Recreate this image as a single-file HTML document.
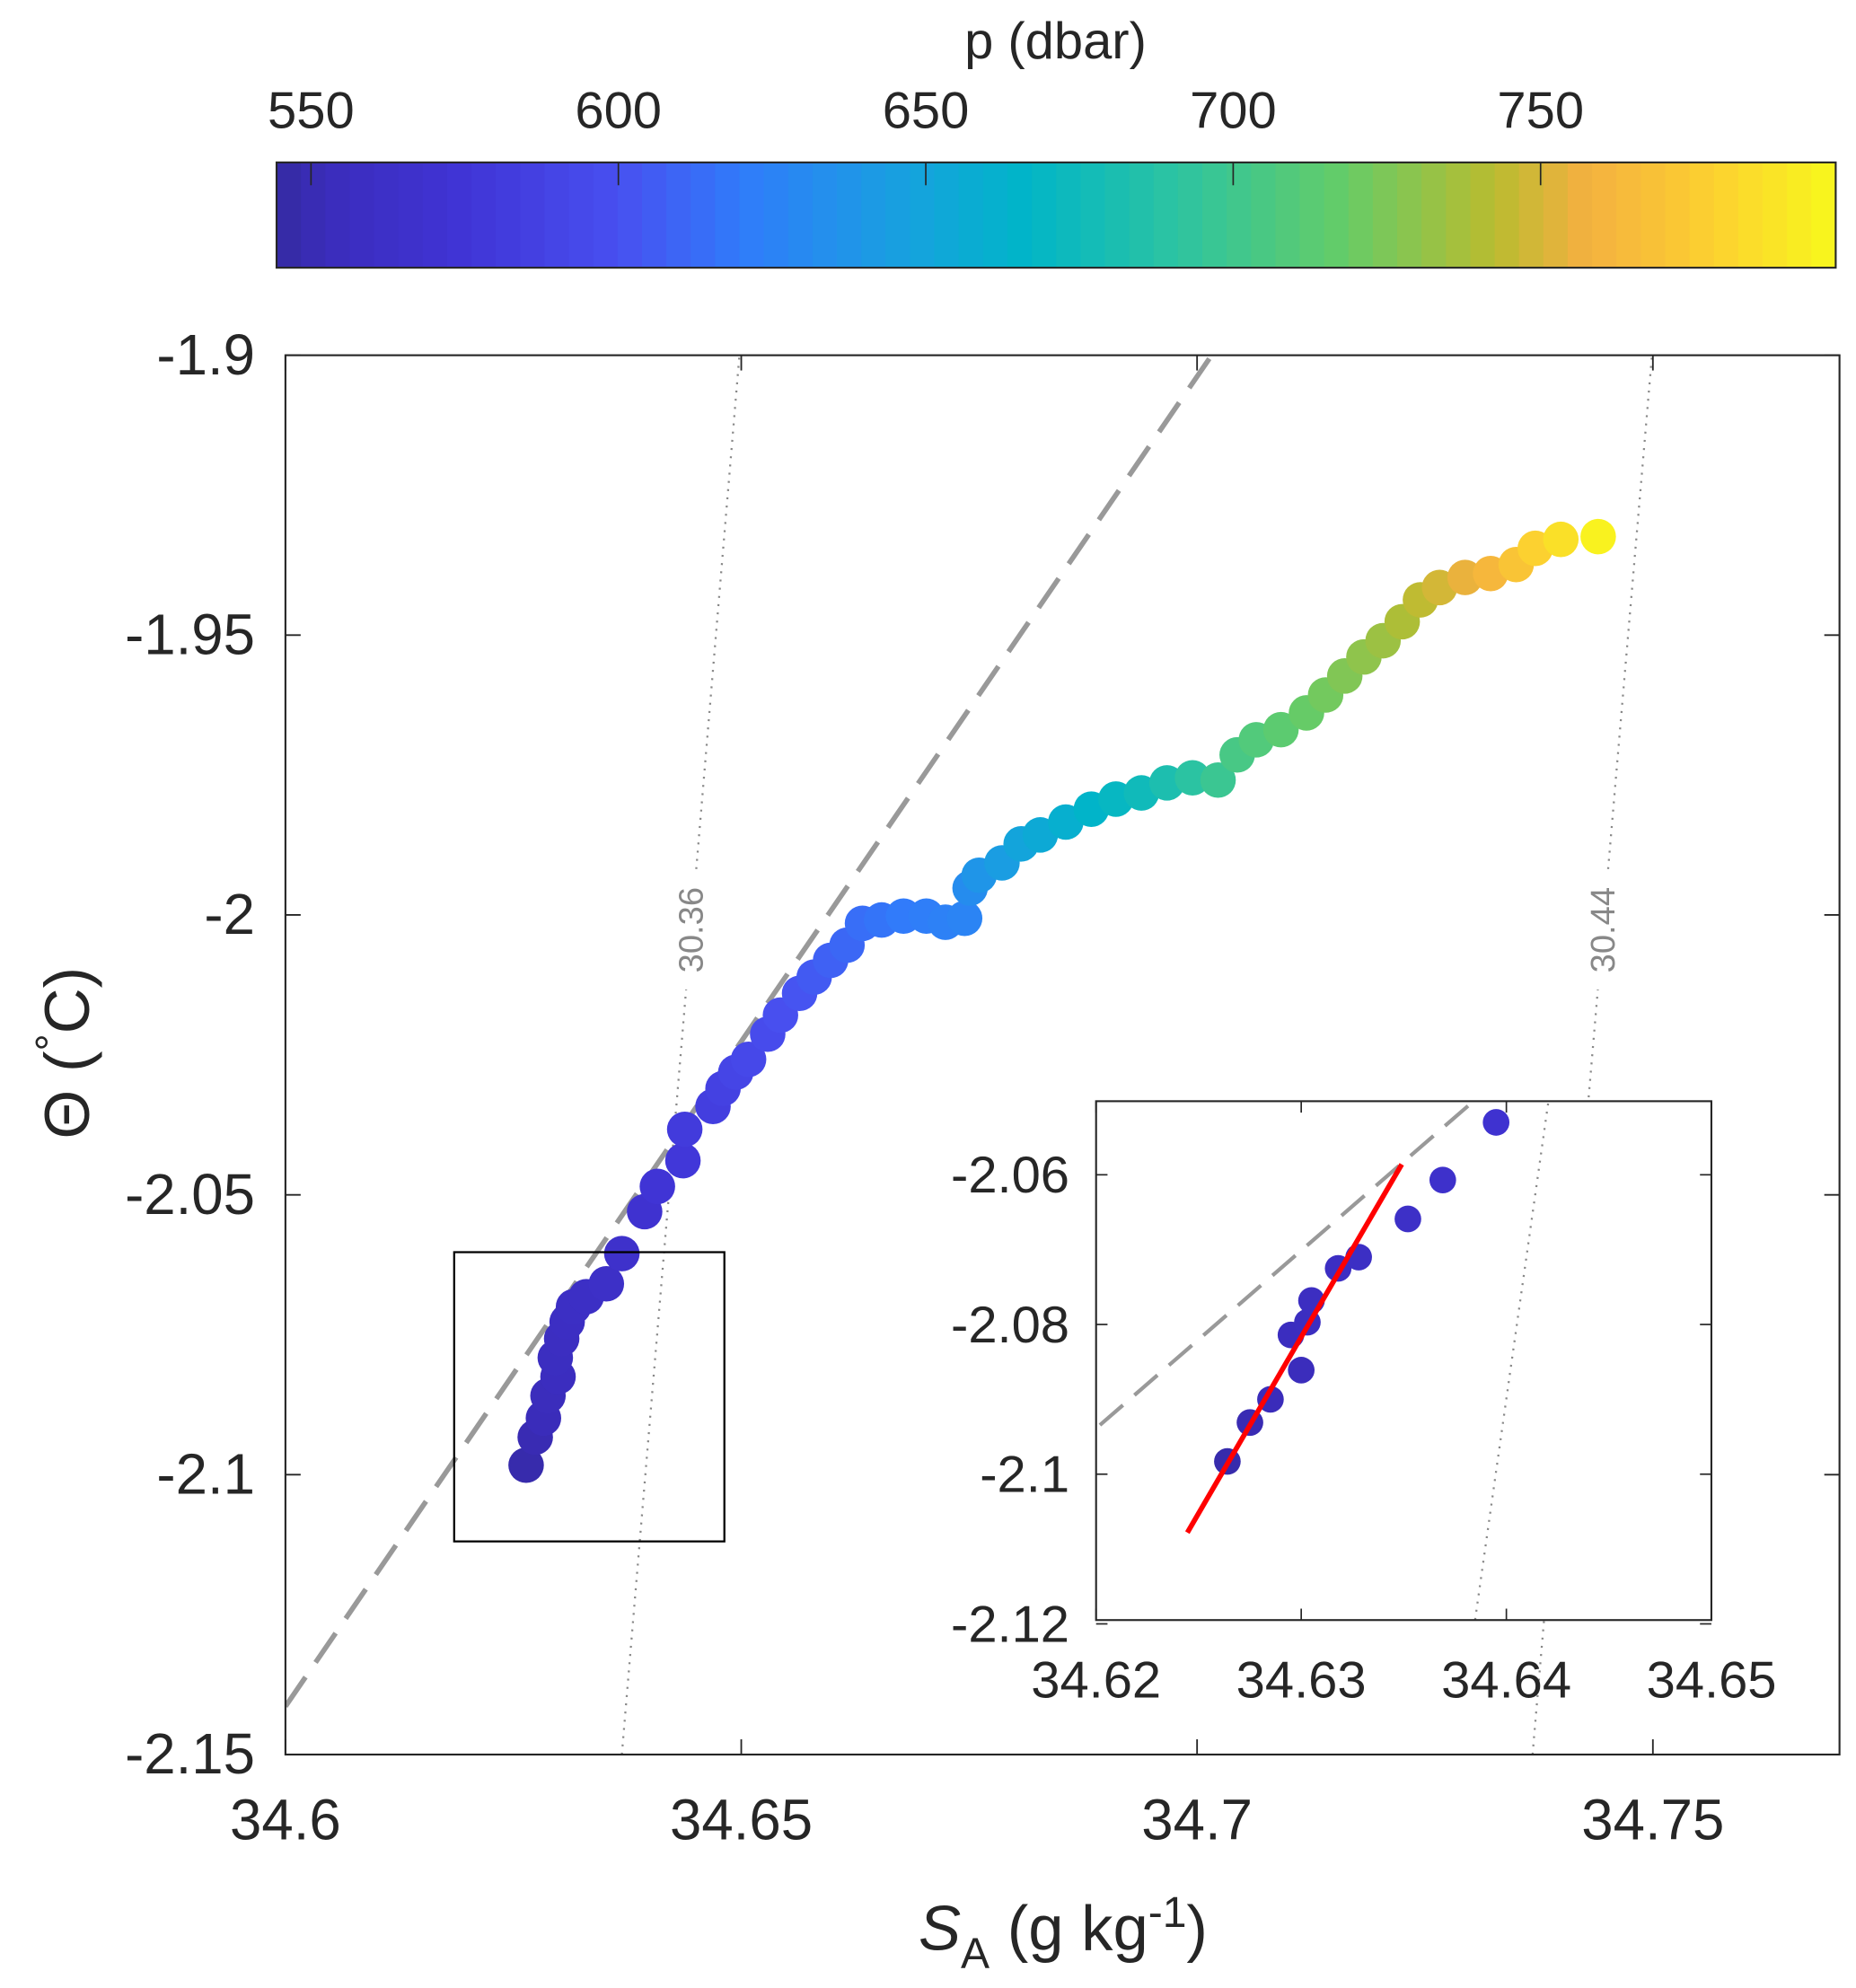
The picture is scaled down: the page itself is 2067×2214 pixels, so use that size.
<!DOCTYPE html>
<html><head><meta charset="utf-8"><style>
html,body{margin:0;padding:0;background:#fff;}
svg{display:block;font-family:"Liberation Sans",sans-serif;}
</style></head><body>
<svg id="chart" width="2067" height="2214" viewBox="0 0 1463 1567" xmlns="http://www.w3.org/2000/svg">
<g id="cbar"></g>
<g id="main"></g>
<g id="inset"></g>
</svg>
<script>
// ---- data ----
const mainSal = [34.6264,34.6274,34.6283,34.6288,34.6299,34.6296,34.6303,34.6309,34.6316,34.6330,34.6352,34.6369,34.6394,34.6408,34.6436,34.6438,34.6469,34.6480,34.6494,34.6508,34.6529,34.6543,34.6564,34.6580,34.6598,34.6616,34.6633,34.6654,34.6678,34.6703,34.6724,34.6745,34.6751,34.6761,34.6786,34.6807,34.6828,34.6856,34.6884,34.6911,34.6939,34.6967,34.6995,34.7023,34.7044,34.7065,34.7092,34.7120,34.7141,34.7162,34.7183,34.7204,34.7225,34.7245,34.7266,34.7294,34.7322,34.7350,34.7371,34.7399,34.7440];
const mainTheta = [-2.0983,-2.0933,-2.0899,-2.0859,-2.0825,-2.0791,-2.0757,-2.0727,-2.0700,-2.0682,-2.0659,-2.0605,-2.0530,-2.0485,-2.0439,-2.0383,-2.0342,-2.0310,-2.0281,-2.0258,-2.0213,-2.0179,-2.0140,-2.0111,-2.0081,-2.0054,-2.0015,-2.0009,-2.0002,-2.0002,-2.0013,-2.0006,-1.9952,-1.9929,-1.9907,-1.9873,-1.9857,-1.9834,-1.9811,-1.9793,-1.9782,-1.9764,-1.9755,-1.9759,-1.9714,-1.9687,-1.9669,-1.9639,-1.9607,-1.9573,-1.9539,-1.9510,-1.9476,-1.9437,-1.9415,-1.9397,-1.9390,-1.9374,-1.9345,-1.9329,-1.9324];
const mainPres = [548,550,552,554,556,557,558,559,560,561,563,566,570,574,578,581,584,587,590,593,596,599,602,605,608,611,614,617,620,622,624,626,632,638,644,650,655,660,665,670,675,682,690,698,704,709,714,718,722,726,730,734,739,744,749,755,762,770,778,786,795];
const insetSal = [34.6264,34.6275,34.6285,34.6295,34.6300,34.6303,34.6305,34.6318,34.6328,34.6352,34.6369,34.6395];
const insetTheta = [-2.0983,-2.0931,-2.0900,-2.0814,-2.0861,-2.0797,-2.0768,-2.0725,-2.0710,-2.0659,-2.0607,-2.0530];
const insetPres = [548,550,552,556,554,557,558,559,560,563,566,570];
const fitSal = [34.62445,34.6349];
const fitTheta = [-2.1078,-2.0586];
const dashSal = [34.6,34.7016];
const dashTheta = [-2.1414,-1.9];
const iso1Sal = [34.6369,34.6498]; const iso1Theta=[-2.15,-1.9];
const iso2Sal = [34.7368,34.7499]; const iso2Theta=[-2.15,-1.9];
const mainXTicks = [34.6,34.65,34.7,34.75];
const mainXLabels = ["34.6","34.65","34.7","34.75"];
const mainYTicks = [-1.9,-1.95,-2,-2.05,-2.1,-2.15];
const mainYLabels = ["-1.9","-1.95","-2","-2.05","-2.1","-2.15"];
const insetXTicks = [34.62,34.63,34.64,34.65];
const insetXLabels = ["34.62","34.63","34.64","34.65"];
const insetYTicks = [-2.06,-2.08,-2.1,-2.12];
const insetYLabels = ["-2.06","-2.08","-2.1","-2.12"];
const cbTicks = [550,600,650,700,750];
const cbLabels = ["550","600","650","700","750"];

const NS="http://www.w3.org/2000/svg";
function mk(tag,attrs,parent){const e=document.createElementNS(NS,tag);for(const k in attrs)e.setAttribute(k,attrs[k]);parent.appendChild(e);return e;}
const stops=[[0,0x35,0x2a,0xa0],[0.03,0x3a,0x2c,0xba],[0.12,0x40,0x34,0xd6],[0.22,0x48,0x50,0xf0],[0.30,0x30,0x7c,0xfa],[0.40,0x18,0xa0,0xe0],[0.48,0x00,0xb5,0xc8],[0.58,0x2e,0xc4,0xa0],[0.68,0x62,0xcc,0x6a],[0.78,0xb8,0xbc,0x30],[0.84,0xf4,0xb0,0x40],[0.92,0xfc,0xd0,0x30],[1,0xf8,0xf8,0x1c]];
function cmap(t){t=Math.max(0,Math.min(1,t));for(let i=1;i<stops.length;i++){if(t<=stops[i][0]){const a=stops[i-1],b=stops[i];const f=(t-a[0])/(b[0]-a[0]);return `rgb(${Math.round(a[1]+f*(b[1]-a[1]))},${Math.round(a[2]+f*(b[2]-a[2]))},${Math.round(a[3]+f*(b[3]-a[3]))})`;}}return "rgb(248,248,28)";}
const pMin=544.4,pMax=798;
const pc=p=>cmap((p-pMin)/(pMax-pMin));

// ---- colorbar ----
const cb=document.getElementById('cbar');
const cbL=218,cbR=1447,cbT=128,cbB=211;
const cbx=p=>cbL+(p-pMin)/(pMax-pMin)*(cbR-cbL);
const N=64;
for(let i=0;i<N;i++){const x0=cbL+i*(cbR-cbL)/N;
 const r=mk('rect',{x:x0,y:cbT,width:(cbR-cbL)/N+0.6,height:cbB-cbT,fill:cmap((i+0.5)/N)},cb);
 
 }
let e=mk('rect',{x:cbL,y:cbT,width:cbR-cbL,height:cbB-cbT,fill:'none',stroke:'#262626','stroke-width':1.5},cb);

cbTicks.forEach((v,i)=>{const x=cbx(v);
 mk('line',{x1:x,x2:x,y1:cbT,y2:cbT+18,stroke:'#262626','stroke-width':1.2},cb);
 const t=mk('text',{x:x,y:101,'font-size':41,'text-anchor':'middle',fill:'#262626'},cb);t.textContent=cbLabels[i];
 });
e=mk('text',{x:832,y:46,'font-size':41,'text-anchor':'middle',fill:'#262626'},cb);e.textContent='p (dbar)';


// ---- main ----
const m=document.getElementById('main');
const L=225,R=1450,T=280,B=1383;
const sx=s=>L+(s-34.6)/0.05*359.3;
const sy=t=>T+(-1.9-t)/0.05*220.6;
const defs=mk('defs',{},m);const cp=mk('clipPath',{id:'mclip'},defs);mk('rect',{x:L,y:T,width:R-L,height:B-T},cp);
const mg=mk('g',{'clip-path':'url(#mclip)'},m);
function iso(S,Th,gap0,gap1,name){
 const x1=sx(S[0]),y1=sy(Th[0]),x2=sx(S[1]),y2=sy(Th[1]);
 const f=y=>x1+(y-y1)/(y2-y1)*(x2-x1);
 const a=mk('line',{x1:x1,y1:y1,x2:f(gap1),y2:gap1,stroke:'#888','stroke-width':1.6,'stroke-dasharray':'1.5 5'},mg);
 
 const b=mk('line',{x1:f(gap0),y1:gap0,x2:x2,y2:y2,stroke:'#888','stroke-width':1.6,'stroke-dasharray':'1.5 5'},mg);
 
 return f;}
const f1=iso(iso1Sal,iso1Theta,685,780,'isopycnal-30.36');
const f2=iso(iso2Sal,iso2Theta,685,780,'isopycnal-30.44');
[[f1,'30.36'],[f2,'30.44']].forEach(([f,l])=>{const x=f(733)+9,y=733;
 const t=mk('text',{x:x,y:y,'font-size':27,fill:'#888','text-anchor':'middle',transform:`rotate(-90 ${x} ${y})`},mg);t.textContent=l;
 });
e=mk('line',{x1:sx(dashSal[0]),y1:sy(dashTheta[0]),x2:sx(dashSal[1]),y2:sy(dashTheta[1]),stroke:'#999','stroke-width':4,'stroke-dasharray':'28 14'},mg);

mainSal.forEach((s,i)=>{const c=mk('circle',{cx:sx(s),cy:sy(mainTheta[i]),r:14,fill:pc(mainPres[i])},mg);
 });
e=mk('rect',{x:358,y:987,width:213,height:228,fill:'none',stroke:'#000','stroke-width':1.6},m);

e=mk('rect',{x:L,y:T,width:R-L,height:B-T,fill:'none',stroke:'#262626','stroke-width':1.5},m);

mainXTicks.forEach((v,i)=>{const x=sx(v);
 mk('line',{x1:x,x2:x,y1:B,y2:B-12,stroke:'#262626','stroke-width':1.3},m);
 mk('line',{x1:x,x2:x,y1:T,y2:T+12,stroke:'#262626','stroke-width':1.3},m);
 const t=mk('text',{x:x,y:1450,'font-size':45,'text-anchor':'middle',fill:'#262626'},m);t.textContent=mainXLabels[i];
 });
mainYTicks.forEach((v,i)=>{const y=sy(v);
 mk('line',{x1:L,x2:L+12,y1:y,y2:y,stroke:'#262626','stroke-width':1.3},m);
 mk('line',{x1:R,x2:R-12,y1:y,y2:y,stroke:'#262626','stroke-width':1.3},m);
 const t=mk('text',{x:201,y:y+15,'font-size':45,'text-anchor':'end',fill:'#262626'},m);t.textContent=mainYLabels[i];
 });
e=mk('text',{x:838,y:1537,'font-size':50,'text-anchor':'middle',fill:'#262626'},m);
e.innerHTML='<tspan font-style="italic">S</tspan><tspan font-size="34" dy="14">A</tspan><tspan dy="-14"> (g kg</tspan><tspan font-size="34" dy="-18">-1</tspan><tspan dy="18">)</tspan>';

e=mk('text',{x:70,y:830,'font-size':50,'text-anchor':'middle',fill:'#262626',transform:'rotate(-90 70 830)'},m);
e.innerHTML='Θ (<tspan font-size="34" dy="-18">°</tspan><tspan dy="18">C)</tspan>';


// ---- inset ----
const g=document.getElementById('inset');
const iL=864,iR=1349,iT=868,iB=1277;
const ix=s=>iL+(s-34.62)/0.01*161.7;
const iy=t=>926+(-2.06-t)/0.02*118;
mk('rect',{x:iL,y:iT,width:iR-iL,height:iB-iT,fill:'#fff'},g);
const cp2=mk('clipPath',{id:'iclip'},defs);mk('rect',{x:iL,y:iT,width:iR-iL,height:iB-iT},cp2);
const ig=mk('g',{'clip-path':'url(#iclip)'},g);
e=mk('line',{x1:ix(iso1Sal[0]),y1:iy(iso1Theta[0]),x2:ix(iso1Sal[1]),y2:iy(iso1Theta[1]),stroke:'#888','stroke-width':1.6,'stroke-dasharray':'1.5 5'},ig);

e=mk('line',{x1:ix(dashSal[0]),y1:iy(dashTheta[0]),x2:ix(dashSal[1]),y2:iy(dashTheta[1]),stroke:'#999','stroke-width':3,'stroke-dasharray':'24 12'},ig);

insetSal.forEach((s,i)=>{const c=mk('circle',{cx:ix(s),cy:iy(insetTheta[i]),r:10.5,fill:pc(insetPres[i])},ig);
 });
e=mk('line',{x1:ix(fitSal[0]),y1:iy(fitTheta[0]),x2:ix(fitSal[1]),y2:iy(fitTheta[1]),stroke:'#ff0000','stroke-width':4},ig);

e=mk('rect',{x:iL,y:iT,width:iR-iL,height:iB-iT,fill:'none',stroke:'#262626','stroke-width':1.5},g);

insetXTicks.forEach((v,i)=>{const x=ix(v);
 mk('line',{x1:x,x2:x,y1:iB,y2:iB-9,stroke:'#262626','stroke-width':1.2},g);
 mk('line',{x1:x,x2:x,y1:iT,y2:iT+9,stroke:'#262626','stroke-width':1.2},g);
 const t=mk('text',{x:x,y:1338,'font-size':41,'text-anchor':'middle',fill:'#262626'},g);t.textContent=insetXLabels[i];
 });
insetYTicks.forEach((v,i)=>{const y=iy(v);
 mk('line',{x1:iL,x2:iL+9,y1:y,y2:y,stroke:'#262626','stroke-width':1.2},g);
 mk('line',{x1:iR,x2:iR-9,y1:y,y2:y,stroke:'#262626','stroke-width':1.2},g);
 const t=mk('text',{x:843,y:y+14,'font-size':41,'text-anchor':'end',fill:'#262626'},g);t.textContent=insetYLabels[i];
 });
</script>
</body></html>
